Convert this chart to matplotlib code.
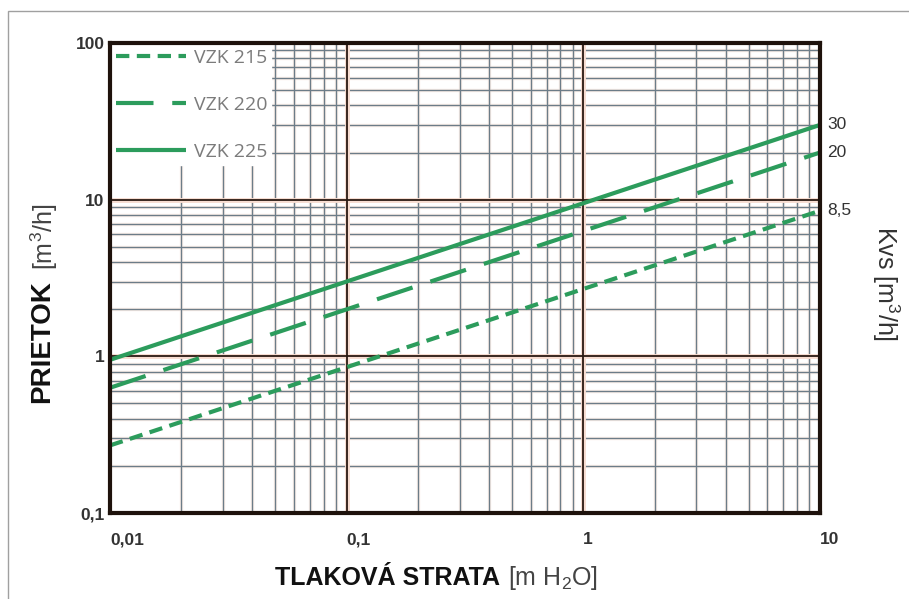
import numpy as np
import matplotlib.pyplot as plt
from matplotlib.patches import Rectangle
from matplotlib.ticker import FixedLocator, NullFormatter, LogLocator

plt.rcParams['font.family'] = ['Liberation Sans', 'DejaVu Sans']
plt.rcParams['mathtext.fontset'] = 'custom'
plt.rcParams['mathtext.rm'] = 'Liberation Sans'
plt.rcParams['mathtext.it'] = 'Liberation Sans'

# Straight lines on log-log, end points only
dp_ends = [0.01, 10]
series_names = ['VZK 215', 'VZK 220', 'VZK 225']
flow_ends = [[0.27, 8.5], [0.63, 20], [0.95, 30]]
kvs_labels = ['8,5', '20', '30']
dash_styles = [(0, (3.2, 1.8)), (0, (9, 4.5)), '-']

x_ticks = [0.01, 0.1, 1, 10]
x_labels = ['0,01', '0,1', '1', '10']
y_ticks = [0.1, 1, 10, 100]
y_labels = ['0,1', '1', '10', '100']

green = '#2c9c5c'
spine_col = '#1e120c'

fig = plt.figure(figsize=(9.09, 5.99), dpi=100)
ax = fig.add_axes([110/909, 1-513/599, 710/909, 470/599])
ax.set_xscale('log')
ax.set_yscale('log')
ax.set_xlim(0.01, 10)
ax.set_ylim(0.1, 100)

# grid: faint pink halo under thin grey-blue minor lines, dark major lines
ax.xaxis.set_minor_locator(LogLocator(base=10, subs=np.arange(2, 10)))
ax.yaxis.set_minor_locator(LogLocator(base=10, subs=np.arange(2, 10)))
ax.grid(False)
for xv in ax.xaxis.get_minorticklocs():
    if 0.01 < xv < 10:
        ax.axvline(xv, color='#fcf0ea', lw=2.5, zorder=0.5)
        ax.axvline(xv, color='#6c7c88', lw=1.0, zorder=0.6)
for yv in ax.yaxis.get_minorticklocs():
    if 0.1 < yv < 100:
        ax.axhline(yv, color='#fcf0ea', lw=2.5, zorder=0.5)
        ax.axhline(yv, color='#6c7c88', lw=1.0, zorder=0.6)
for xv in x_ticks[1:-1]:
    ax.axvline(xv, color='#f7dcd0', lw=3.5, zorder=0.7)
    ax.axvline(xv, color='#2b1a12', lw=1.3, zorder=0.8)
for yv in y_ticks[1:-1]:
    ax.axhline(yv, color='#f7dcd0', lw=3.5, zorder=0.7)
    ax.axhline(yv, color='#2b1a12', lw=1.3, zorder=0.8)

for name, q, ls in zip(series_names, flow_ends, dash_styles):
    ax.plot(dp_ends, q, color=green, lw=3, linestyle=ls, label=name,
            solid_capstyle='butt', dash_capstyle='butt', zorder=3)

for q, lab in zip(flow_ends, kvs_labels):
    ax.annotate(lab, xy=(dp_ends[-1], q[-1]), xytext=(5, 0),
                textcoords='offset points', va='center', ha='left',
                fontsize=12.5, color='#333333', annotation_clip=False)

leg = ax.legend(loc='upper left', frameon=True, fancybox=False,
                facecolor='white', edgecolor='white', framealpha=1,
                borderaxespad=0.1, borderpad=0.2, handlelength=3.6,
                handletextpad=0.4, labelspacing=1.5,
                prop={'family': 'Open Sans', 'size': 14})
for t in leg.get_texts():
    t.set_color('#7b7b7b')
leg.set_zorder(2)

ax.xaxis.set_major_locator(FixedLocator(x_ticks))
ax.set_xticklabels(x_labels, fontweight='bold', fontsize=12.5, color='#333333')
ax.xaxis.set_minor_formatter(NullFormatter())
ax.yaxis.set_major_locator(FixedLocator(y_ticks))
ax.set_yticklabels(y_labels, fontweight='bold', fontsize=12.5, color='#333333')
ax.yaxis.set_minor_formatter(NullFormatter())
ax.tick_params(which='both', length=0)
ax.tick_params(axis='x', pad=14)
ax.tick_params(axis='y', pad=4)
for t in ax.get_xticklabels():
    t.set_horizontalalignment('left')

for s in ax.spines.values():
    s.set_linewidth(3)
    s.set_color(spine_col)
    s.set_zorder(4)

# axis titles
fig.text(500/909, 1-578/599, 'TLAKOVÁ STRATA', ha='right', va='center',
         fontsize=18, fontweight='bold', color='#111111')
fig.text(508/909, 1-578/599, r'[m H$_2$O]', ha='left', va='center',
         fontsize=18, color='#444444')
fig.text(42/909, 1-403/599, 'PRIETOK', rotation=90, ha='center', va='bottom',
         fontsize=20, fontweight='bold', color='#111111')
fig.text(44/909, 1-270/599, r'[m$^3$/h]', rotation=90, ha='center', va='bottom',
         fontsize=18, color='#444444')
fig.text(886/909, 1-284/599, r'Kvs [m$^3$/h]', rotation=-90, ha='center',
         va='center', fontsize=18, color='#333333')

# thin frame of the original picture
fig.add_artist(Rectangle((8/909, -0.02), 1.1, (599-11)/599 + 0.02,
                         transform=fig.transFigure, fill=False,
                         edgecolor='#a0a0a0', lw=1))

fig.savefig('out.png', dpi=100)
